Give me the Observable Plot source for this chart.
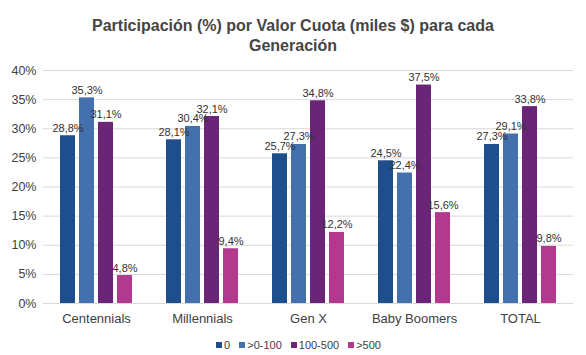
<!DOCTYPE html>
<html>
<head>
<meta charset="utf-8">
<script src="https://cdn.jsdelivr.net/npm/d3@7"></script>
<script src="https://cdn.jsdelivr.net/npm/@observablehq/plot@0.6"></script>
<style>
  body { margin: 0; background: #fff; font-family: "Liberation Sans", Arial, Helvetica, sans-serif; }
  #title { width: 586px; text-align: center; font-weight: bold; font-size: 16px; line-height: 20px; color: #454545; padding-top: 16px; height: 42px; }
  #chart svg { display: block; }
  #legend { width: 586px; display: flex; justify-content: center; padding-left: 20px; box-sizing: border-box; font-size: 11px; color: #404040; line-height: 14px; margin-top: 4px; }
  #legend .item { display: inline-flex; align-items: center; margin-right: 9px; }
  #legend .sw { width: 6px; height: 6px; margin-right: 2px; display: inline-block; }
</style>
</head>
<body>
<div id="title">Participación (%) por Valor Cuota (miles $) para cada<br>Generación</div>
<div id="chart"></div>
<div id="legend"></div>
<script>
const generations = ["Centennials", "Millennials", "Gen X", "Baby Boomers", "TOTAL"];
const series = ["0", ">0-100", "100-500", ">500"];
const colors = ["#1f4e8c", "#4471ad", "#6a2576", "#b2398e"];
const values0 = [28.8, 28.1, 25.7, 24.5, 27.3];
const values0to100 = [35.3, 30.4, 27.3, 22.4, 29.1];
const values100to500 = [31.1, 32.1, 34.8, 37.5, 33.8];
const values500 = [4.8, 9.4, 12.2, 15.6, 9.8];
const yTicks = [0, 5, 10, 15, 20, 25, 30, 35, 40];

const seriesValues = [values0, values0to100, values100to500, values500];
const data = [];
generations.forEach((g, i) => {
  series.forEach((s, j) => data.push({gen: g, serie: s, value: seriesValues[j][i]}));
});
const fmt = v => v.toFixed(1).replace(".", ",") + "%";

const chart = Plot.plot({
  width: 586,
  height: 276,
  marginTop: 12,
  marginBottom: 31,
  marginLeft: 42,
  marginRight: 13,
  style: {fontFamily: "'Liberation Sans', Arial, Helvetica, sans-serif", color: "#404040", background: "#fff"},
  fx: {domain: generations, padding: 0, label: null, axis: null},
  x: {domain: series, paddingInner: 0.22, paddingOuter: 0.86, axis: null},
  y: {domain: [0, 40], axis: null},
  color: {domain: series, range: colors},
  marks: [
    Plot.ruleY(yTicks, {stroke: "#d9d9d9", strokeWidth: 1}),
    Plot.axisY(yTicks, {tickSize: 0, tickPadding: 7, tickFormat: d => d + "%", fontSize: 12.5, fill: "#404040", label: null, facet: "exclude"}),
    Plot.axisFx({anchor: "bottom", tickSize: 0, tickPadding: 10, fontSize: 13, fill: "#404040", label: null}),
    Plot.barY(data, {fx: "gen", x: "serie", y: "value", fill: "serie"}),
    Plot.text(data, {fx: "gen", x: "serie", y: "value", text: d => fmt(d.value), lineAnchor: "bottom", dy: -4, fontSize: 11, fill: "#333"})
  ]
});
document.getElementById("chart").appendChild(chart);

const legendEl = document.getElementById("legend");
series.forEach((s, j) => {
  const item = document.createElement("span");
  item.className = "item";
  const sw = document.createElement("span");
  sw.className = "sw";
  sw.style.background = colors[j];
  item.appendChild(sw);
  item.appendChild(document.createTextNode(s));
  legendEl.appendChild(item);
});
</script>
</body>
</html>
